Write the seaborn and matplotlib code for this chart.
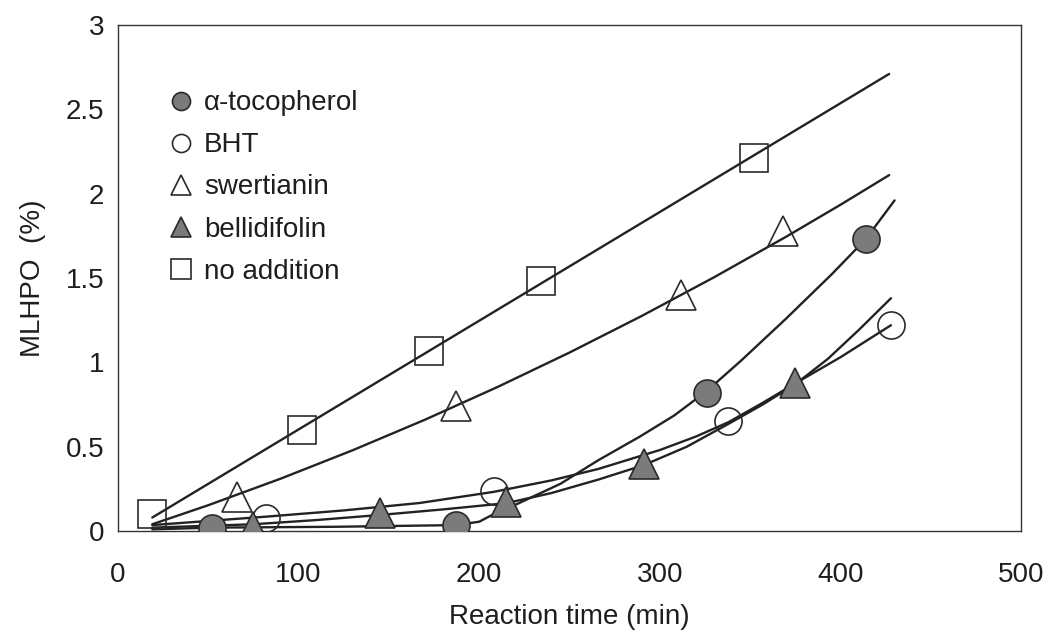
import matplotlib
matplotlib.use("Agg")
import matplotlib.pyplot as plt
import seaborn as sns
from matplotlib.lines import Line2D

# ---- measured data points (markers) ----
x_toc = [52, 187, 326, 414]
y_toc = [0.02, 0.035, 0.82, 1.73]
x_bht = [82, 208, 338, 428]
y_bht = [0.08, 0.24, 0.65, 1.22]
x_swe = [66, 187, 312, 368]
y_swe = [0.20, 0.74, 1.40, 1.78]
x_bel = [75, 145, 215, 291, 375]
y_bel = [0.025, 0.105, 0.17, 0.40, 0.88]
x_no = [19, 102, 172, 234, 352]
y_no = [0.10, 0.60, 1.07, 1.48, 2.21]

# ---- fitted curves as drawn in the figure ----
cx_no = [19, 427]
cy_no = [0.08, 2.71]
cx_swe = [19, 50, 90, 130, 170, 210, 250, 290, 330, 370, 400, 427]
cy_swe = [0.04, 0.153, 0.31, 0.479, 0.66, 0.853, 1.058, 1.275, 1.504, 1.745, 1.934, 2.11]
cx_toc = [19, 52, 120, 187, 200, 208, 222, 245, 266, 289, 308, 326, 345, 370, 395, 414, 430]
cy_toc = [0.01, 0.02, 0.025, 0.035, 0.055, 0.10, 0.165, 0.28, 0.42, 0.56, 0.685, 0.83, 1.01, 1.26, 1.52, 1.73, 1.96]
cx_bht = [19, 82, 125, 167, 208, 240, 266, 300, 320, 338, 357, 375, 400, 428]
cy_bht = [0.035, 0.085, 0.122, 0.166, 0.232, 0.30, 0.368, 0.48, 0.56, 0.645, 0.76, 0.875, 1.03, 1.22]
cx_bel = [19, 75, 110, 145, 180, 215, 240, 266, 291, 315, 338, 357, 375, 393, 410, 428]
cy_bel = [0.02, 0.04, 0.065, 0.095, 0.128, 0.165, 0.225, 0.305, 0.39, 0.50, 0.635, 0.75, 0.87, 1.02, 1.19, 1.38]

labels = ["α-tocopherol", "BHT", "swertianin", "bellidifolin", "no addition"]

sns.set_theme(style="white")
plt.rcParams["font.family"] = ["Liberation Sans", "DejaVu Sans"]
plt.rcParams["text.color"] = "#1e1e1e"
plt.rcParams["axes.labelcolor"] = "#1e1e1e"
plt.rcParams["xtick.color"] = "#1e1e1e"
plt.rcParams["ytick.color"] = "#1e1e1e"

fig = plt.figure(figsize=(10.51, 6.34), dpi=100)
ax = fig.add_axes([118 / 1051, 1 - 531 / 634, (1021 - 118) / 1051, (531 - 25) / 634])

line_c = "#222222"
for cx, cy in [(cx_no, cy_no), (cx_swe, cy_swe), (cx_toc, cy_toc), (cx_bht, cy_bht), (cx_bel, cy_bel)]:
    sns.lineplot(x=cx, y=cy, sort=False, estimator=None, color=line_c, lw=1.7, ax=ax, zorder=2)

fill_c = "#7b7b7b"
edge_c = "#2a2a2a"
styles = [
    (x_toc, y_toc, "o", fill_c, 19.5, 13.0),
    (x_bht, y_bht, "o", "none", 19.5, 13.0),
    (x_swe, y_swe, "^", "none", 21.5, 14.5),
    (x_bel, y_bel, "^", fill_c, 21.5, 14.5),
    (x_no, y_no, "s", "none", 20.0, 14.0),
]
handles = []
for (xs, ys, mk, fc, ms, lms), lab in zip(styles, labels):
    sns.lineplot(x=xs, y=ys, sort=False, estimator=None, marker=mk, linestyle="none",
                 ms=ms, mfc=fc, mec=edge_c, mew=1.2, color=edge_c, ax=ax, zorder=3)
    handles.append(Line2D([], [], marker=mk, linestyle="none", ms=lms,
                          mfc=fc, mec=edge_c, mew=1.2, label=lab))

ax.set_xlim(0, 500)
ax.set_ylim(0, 3)
ax.set_xticks([0, 100, 200, 300, 400, 500])
ax.set_yticks([0, 0.5, 1, 1.5, 2, 2.5, 3])
ax.set_yticklabels(["0", "0.5", "1", "1.5", "2", "2.5", "3"])
ax.tick_params(axis="both", direction="in", length=4, width=0.8, labelsize=20)
ax.tick_params(axis="x", pad=22)
ax.tick_params(axis="y", pad=10)
for s in ax.spines.values():
    s.set_color("#333333")
    s.set_linewidth(1.0)

ax.set_xlabel("Reaction time (min)", fontsize=20, labelpad=12)
ax.set_ylabel("MLHPO  (%)", fontsize=20, labelpad=14)

ax.legend(handles=handles, loc="upper left", bbox_to_anchor=(0.058, 0.871),
          frameon=False, fontsize=20, handlelength=0.8, handletextpad=0.4,
          labelspacing=0.58, borderpad=0, borderaxespad=0)

fig.savefig("out.png", dpi=100)
